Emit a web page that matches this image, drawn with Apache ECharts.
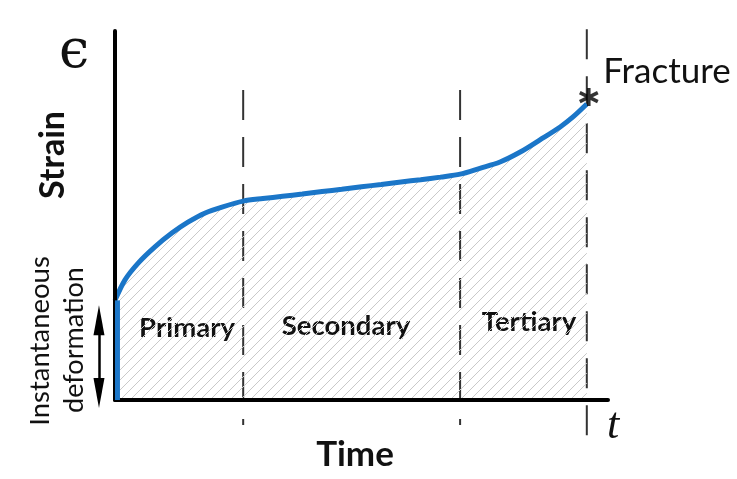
<!DOCTYPE html>
<html>
<head>
<meta charset="utf-8">
<script src="https://cdn.jsdelivr.net/npm/echarts@6/dist/echarts.min.js"></script>
<style>
  html, body { margin: 0; padding: 0; background: #fff; }
  #chart { width: 737px; height: 479px; }
</style>
</head>
<body>
<div id="chart"></div>
<script>
// creep curve, time and strain in relative units (0..100)
const time = [0, 2, 4.7, 8.1, 11.6, 14.8, 18.3, 21.7, 26, 30, 34, 38, 42, 46, 50, 54, 58, 62, 66, 70,
              74, 78.1, 82.2, 86.2, 90.3, 92.9, 95.7];
const strain = [27, 32.5, 37.1, 41.5, 45.3, 48.2, 50.7, 52.3, 53.9, 54.6, 55.2, 55.8, 56.5, 57.1, 57.8, 58.4, 59.1, 59.7, 60.4, 61.2,
                62.8, 64.5, 67.2, 70.5, 74, 76.7, 80.2];
const instantStrain = 27;
const phaseBounds = [26, 70, 95.7];
const phaseNames = ['Primary', 'Secondary', 'Tertiary'];

const curveData = time.map((t, i) => [t, strain[i]]);
const fracture = curveData[curveData.length - 1];
const arrowX = -3.25;
const arrowEnds = [instantStrain - 1.3, -2.2];

// hatch pattern for the area under the curve
function hatch() {
    const c = document.createElement('canvas');
    c.width = 10; c.height = 10;
    const ctx = c.getContext('2d');
    ctx.strokeStyle = '#c9c9c9';
    ctx.lineWidth = 1;
    ctx.beginPath();
    ctx.moveTo(-5, 5); ctx.lineTo(5, -5);
    ctx.moveTo(0, 10); ctx.lineTo(10, 0);
    ctx.moveTo(5, 15); ctx.lineTo(15, 5);
    ctx.stroke();
    return c;
}

const dashStyle = { color: '#333', width: 2, type: [30, 17] };
function dashLine(x, i) {
    const last = i === phaseBounds.length - 1;
    return {
        type: 'line',
        data: last ? [[x, 100.5], [x, -10.5]] : [[x, 84], [x, -6.8]],
        symbol: 'none',
        clip: false,
        lineStyle: dashStyle,
        silent: true,
        z: 1
    };
}

const font = 'Lato, "Open Sans", sans-serif';
function txt(text, x, y, f, rot) {
    return {
        type: 'text', x: x, y: y, rotation: rot || 0,
        style: { text: text, font: f, fill: '#111', align: 'center', verticalAlign: 'middle',
                 textAlign: 'center', textVerticalAlign: 'middle' }
    };
}

const axisStyle = {
    type: 'value', min: 0, max: 100, z: 10,
    axisLine: { show: true, lineStyle: { color: '#000', width: 4 } },
    axisTick: { show: false }, axisLabel: { show: false }, splitLine: { show: false }
};

const chart = echarts.init(document.getElementById('chart'));
const option = {
    backgroundColor: '#fff',
    animation: false,
    grid: { left: 115, top: 31, width: 493, bottom: 79 },
    xAxis: axisStyle,
    yAxis: axisStyle,
    series: [
        ...phaseBounds.map(dashLine),
        {
            type: 'line',
            data: curveData,
            smooth: 0.3,
            symbol: 'none',
            lineStyle: { color: '#1b76c8', width: 5 },
            areaStyle: { color: { image: hatch(), repeat: 'repeat' }, opacity: 1, origin: 'start' },
            z: 3
        },
        {
            // instantaneous deformation (vertical jump at t = 0)
            type: 'line',
            data: [[0.5, 0], [0.5, instantStrain]],
            symbol: 'none',
            clip: false,
            lineStyle: { color: '#1b76c8', width: 5 },
            z: 11
        },
        {
            // double arrow beside the y axis: shaft
            type: 'lines',
            coordinateSystem: 'cartesian2d',
            clip: false,
            lineStyle: { color: '#000', width: 2.5, opacity: 1 },
            data: [{ coords: [[arrowX, arrowEnds[0] - 3], [arrowX, arrowEnds[1] + 3]] }],
            z: 4
        },
        {
            // arrow heads
            type: 'scatter',
            clip: false,
            symbol: 'triangle',
            symbolSize: [11, 30],
            itemStyle: { color: '#000', opacity: 1 },
            data: [
                { value: [arrowX, arrowEnds[0]], symbolRotate: 0, symbolOffset: [0, 15] },
                { value: [arrowX, arrowEnds[1]], symbolRotate: 180, symbolOffset: [0, -15] }
            ],
            z: 4
        },
        {
            type: 'scatter',
            data: [fracture],
            symbol: 'path://M10,0L10,20M1.34,5L18.66,15M1.34,15L18.66,5',
            symbolSize: 18,
            symbolOffset: [2, -7],
            itemStyle: { color: 'rgba(0,0,0,0)', borderColor: '#000', borderWidth: 3.5 },
            clip: false,
            z: 5
        }
    ],
    graphic: [
        txt('ϵ', 74, 53, '54px "DejaVu Serif", serif'),
        txt('Strain', 53, 155, 'bold 34px ' + font, Math.PI / 2),
        txt('Instantaneous', 40, 341, '27.5px ' + font, Math.PI / 2),
        txt('deformation', 74, 340, '27px ' + font, Math.PI / 2),
        txt(phaseNames[0], 187, 328, 'bold 27.5px ' + font),
        txt(phaseNames[1], 346, 326, 'bold 27.5px ' + font),
        txt(phaseNames[2], 529, 322, 'bold 27.5px ' + font),
        txt('Fracture', 667, 72, '35px ' + font),
        txt('Time', 355, 455, 'bold 35px ' + font),
        txt('t', 613, 426, 'italic 44px "Liberation Serif", serif')
    ]
};
chart.setOption(option);
</script>
</body>
</html>
